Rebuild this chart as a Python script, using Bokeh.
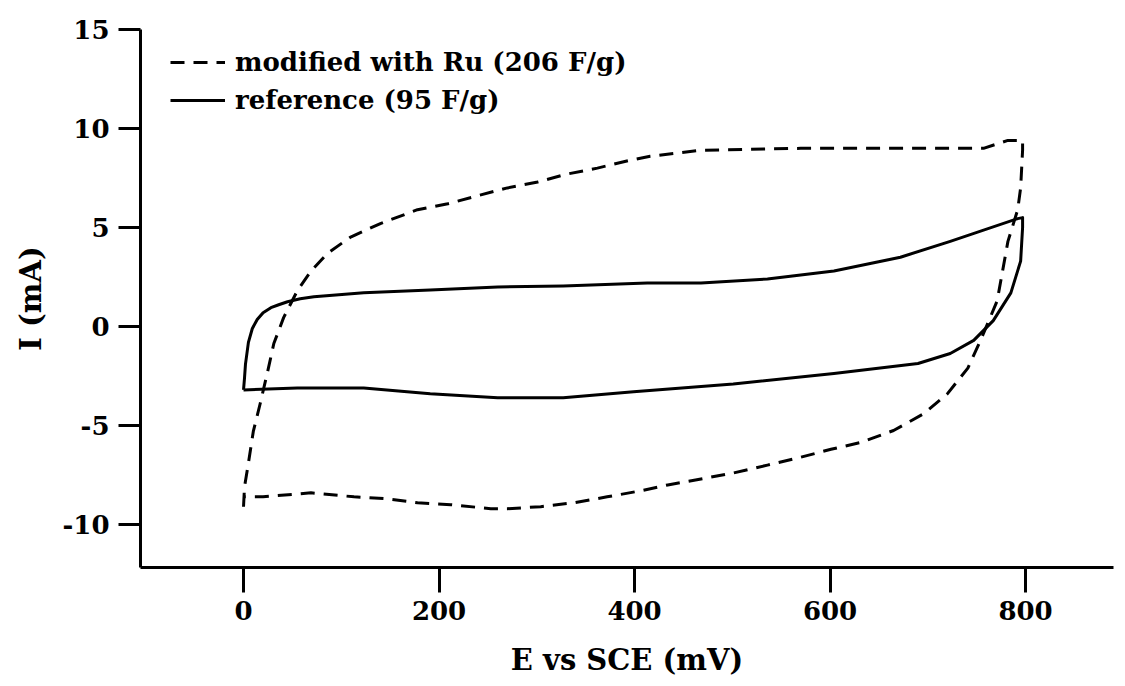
from bokeh.plotting import figure
from bokeh.models import Range1d, FixedTicker, Legend, LegendItem
from bokeh.embed import file_html
from bokeh.resources import INLINE

# modified with Ru (206 F/g) - dashed loop
ru_e = [0, 1, 5, 10, 17, 25, 31, 41, 55, 69, 86, 109, 140, 178, 209, 239, 270, 301, 331, 362,
        396, 416, 468, 570, 672, 757, 782, 797, 797, 795, 792, 782, 771, 754, 741, 720, 696,
        665, 631, 601, 570, 536, 501, 468, 434, 406, 372, 338, 304, 270, 253, 212, 178, 147,
        113, 69, 20, 2]
ru_i = [-9.1, -8.1, -6.9, -5.3, -3.9, -2.2, -0.86, 0.45, 1.8, 2.8, 3.7, 4.5, 5.2, 5.9, 6.2, 6.6,
        7.0, 7.3, 7.7, 8.0, 8.4, 8.6, 8.9, 9.0, 9.0, 9.0, 9.4, 9.4, 8.9, 7.0, 5.9, 4.3, 1.3,
        -0.7, -2.1, -3.4, -4.4, -5.25, -5.86, -6.2, -6.6, -7.0, -7.4, -7.7, -8.0, -8.3, -8.6,
        -8.9, -9.1, -9.2, -9.2, -9.0, -8.9, -8.7, -8.6, -8.4, -8.6, -8.6]

# reference (95 F/g) - solid loop
ref_e = [0, 1, 2, 5, 9, 14, 20, 28, 36, 45, 58, 72, 123, 191, 260, 327, 413, 468, 536, 604,
         672, 723, 792, 797, 797, 795, 785, 767, 747, 723, 690, 604, 501, 399, 327, 260, 191,
         123, 55, 0]
ref_i = [-3.2, -2.6, -1.9, -0.8, -0.1, 0.35, 0.7, 0.95, 1.1, 1.25, 1.4, 1.5, 1.7, 1.85, 2.0,
         2.05, 2.2, 2.2, 2.4, 2.8, 3.5, 4.3, 5.45, 5.5, 5.0, 3.3, 1.7, 0.3, -0.7, -1.36, -1.87,
         -2.37, -2.9, -3.3, -3.6, -3.6, -3.4, -3.1, -3.1, -3.2]

x_ticks = [0, 200, 400, 600, 800]
y_ticks = [-10, -5, 0, 5, 10, 15]
y_tick_labels = ["-10", "-5", "0", "5", "10", "15"]
labels = ["modified with Ru (206 F/g)", "reference (95 F/g)"]

FONT = "DejaVu Serif"

p = figure(width=1115, height=682, output_backend="svg", toolbar_location=None,
           x_range=Range1d(-105.4, 890), y_range=Range1d(-12.17, 15),
           min_border_left=140, min_border_right=2, min_border_top=29, min_border_bottom=115)
p.background_fill_color = "white"
p.border_fill_color = "white"
p.outline_line_color = None
p.xgrid.visible = False
p.ygrid.visible = False

r1 = p.line(ru_e, ru_i, line_color="black", line_width=3, line_dash="14 9", line_join="round")
r2 = p.line(ref_e, ref_i, line_color="black", line_width=3, line_join="round")

for ax in (p.xaxis[0], p.yaxis[0]):
    ax.axis_line_width = 3
    ax.axis_line_color = "black"
    ax.major_tick_line_width = 3
    ax.major_tick_line_color = "black"
    ax.major_tick_in = 0
    ax.minor_tick_line_color = None
    ax.major_label_text_font = FONT
    ax.major_label_text_font_style = "bold"
    ax.major_label_text_font_size = "26px"
    ax.major_label_text_color = "black"
    ax.axis_label_text_font = FONT
    ax.axis_label_text_font_style = "bold"
    ax.axis_label_text_font_size = "29px"
    ax.axis_label_text_color = "black"

p.xaxis[0].ticker = FixedTicker(ticks=x_ticks)
p.yaxis[0].ticker = FixedTicker(ticks=y_ticks)
p.yaxis[0].major_label_overrides = {t: s for t, s in zip(y_ticks, y_tick_labels)}
p.xaxis[0].major_tick_out = 25
p.yaxis[0].major_tick_out = 22
p.xaxis[0].major_label_standoff = 8
p.yaxis[0].major_label_standoff = 9
p.xaxis[0].axis_label = "E vs SCE (mV)"
p.yaxis[0].axis_label = "I (mA)"
p.xaxis[0].axis_label_standoff = 20
p.yaxis[0].axis_label_standoff = 12

legend = Legend(items=[LegendItem(label=labels[0], renderers=[r1]),
                       LegendItem(label=labels[1], renderers=[r2])],
                location=(30, 452))
legend.background_fill_alpha = 0
legend.border_line_color = None
legend.padding = 0
legend.margin = 0
legend.spacing = 8
legend.glyph_height = 30
legend.glyph_width = 55
legend.label_height = 30
legend.label_standoff = 10
legend.label_text_font = FONT
legend.label_text_font_style = "bold"
legend.label_text_font_size = "26px"
legend.label_text_color = "black"
p.add_layout(legend)

open("out.html", "w").write(file_html(p, INLINE))
